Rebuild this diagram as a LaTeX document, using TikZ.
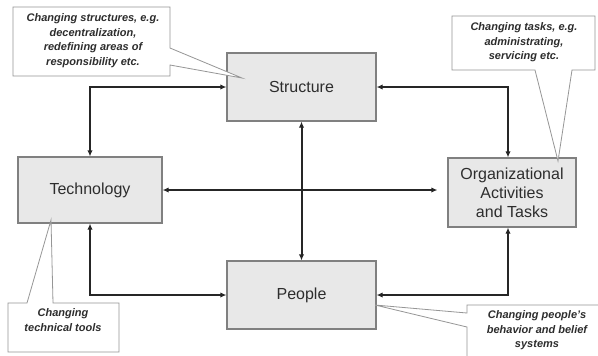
\documentclass[tikz,border=0pt]{standalone}
\usepackage{fontspec}
\setmainfont{Liberation Sans}
\usepackage{tikz}
\usetikzlibrary{arrows.meta, positioning}

\definecolor{boxfill}{RGB}{232,232,232}
\definecolor{boxline}{RGB}{128,128,128}
\definecolor{noteline}{RGB}{150,150,150}
\definecolor{txt}{RGB}{45,45,45}

\tikzset{
	area/.style={draw=boxline, line width=0.9pt, fill=boxfill, text=txt, align=center,
		font=\fontsize{12}{14.25}\selectfont},
	note/.style={text=txt, align=center, font=\fontsize{8.25}{10.9}\selectfont\bfseries\itshape},
	notebox/.style={draw=noteline, line width=0.6pt, fill=white},
	link/.style={line width=1.5pt, draw=black!85, {Latex[length=4.5pt,width=4pt]}-{Latex[length=4.5pt,width=4pt]}}
}

\begin{document}
\begin{tikzpicture}[x=0.75pt, y=-0.75pt]
		\useasboundingbox (0,0) rectangle (598,355);
		\clip (0,0) rectangle (598,355);
		\fill[white] (0,0) rectangle (598,355);
		
		\node[area, minimum width=111.75pt, minimum height=51pt] (struct) at (301.5,87) {Structure};
		\node[area, minimum width=111.75pt, minimum height=51pt] (people) at (301.5,295) {People};
		\node[area, minimum width=108pt, minimum height=49.5pt] (tech) at (90,190) {Technology};
		\node[area, minimum width=96pt, minimum height=51.75pt] (org) at (512,192.5) {Organizational\\Activities\\and Tasks};
		
		\draw[link] (tech.north) |- (struct.west);
		\draw[link] (struct.east) -| ([xshift=-3pt]org.north);
		\draw[link] (struct.south) -- (people.north);
		\draw[link, shorten >=7.5pt] (tech.east) -- (tech.east -| org.west);
		\draw[link] (tech.south) |- (people.west);
		\draw[link] (people.east) -| ([xshift=-3pt]org.south);
		
		% callouts
		\draw[notebox] (13,7) -- (170,7) -- (170,48) -- (242,78) -- (170,65) -- (170,76) -- (13,76) -- cycle;
		\draw[notebox] (452,16) -- (595,16) -- (595,70) -- (572,70) -- (558,161) -- (535,70) -- (452,70) -- cycle;
		\draw[notebox] (8,303) -- (27,303) -- (51,220) -- (53,303) -- (119,303) -- (119,352) -- (8,352) -- cycle;
		\draw[notebox] (467,305) -- (610,305) -- (610,370) -- (467,370) -- (467,327) -- (375,305) -- (467,313) -- cycle;
		
		\node[note] (nstruct) at (93,40.5) {Changing structures, e.g.\\decentralization,\\redefining areas of\\responsibility etc.};
		\node[note] (norg) at (524,42.5) {Changing tasks, e.g.\\administrating,\\servicing etc.};
		\node[note] (ntech) at (63,320) {Changing\\technical tools};
		\node[note] (npeople) at (537,330.5) {Changing people's\\behavior and belief\\systems};

	\end{tikzpicture}
\end{document}
